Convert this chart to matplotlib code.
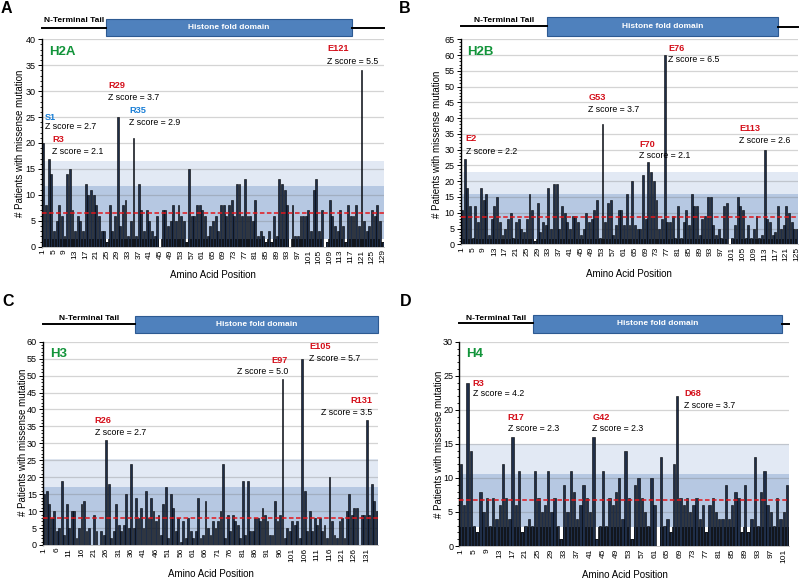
import numpy as np
import matplotlib
matplotlib.use('Agg')
import matplotlib.pyplot as plt
import matplotlib.transforms as mtransforms
from matplotlib.patches import Rectangle
from matplotlib.ticker import MultipleLocator

plt.rcParams['font.family'] = ['Liberation Sans', 'DejaVu Sans']

# patients with a missense mutation at each amino acid position
h2a_counts = [20, 8, 17, 14, 3, 5, 8, 6, 2, 14, 15, 7, 3, 6, 5, 3, 12, 10, 11, 10,
              8, 6, 3, 3, 1, 8, 3, 6, 25, 4, 8, 9, 2, 5, 21, 2, 12, 7, 3, 7,
              5, 3, 2, 6, 0, 7, 7, 4, 5, 8, 5, 8, 6, 5, 1, 15,
              6, 6, 8, 8, 7, 6, 2, 4, 5, 6, 3, 8, 8, 6, 8, 9, 6, 12, 12, 6,
              13, 6, 6, 5, 9, 2, 3, 2, 1, 3, 1, 6, 2, 13, 12, 11, 8, 0, 8, 2,
              2, 6, 6, 6, 7, 3, 11, 13, 3, 7, 0, 1, 9, 6, 4, 3, 7, 4, 1, 8,
              6, 6, 8, 4, 34, 5, 3, 4, 7, 6, 8, 5, 1]
h2b_counts = [11, 27, 18, 12, 2, 12, 7, 18, 14, 16, 3, 8, 12, 15, 7, 3, 5, 8, 10, 2,
              7, 8, 5, 4, 8, 16, 11, 1, 13, 4, 7, 6, 18, 5, 19, 19, 5, 12, 10, 7,
              5, 9, 9, 7, 3, 5, 10, 7, 8, 11, 14, 2,
              38, 7, 13, 14, 3, 6, 11, 11, 6, 16, 6, 20, 6, 5, 5, 22, 8, 26, 23, 20,
              14, 5, 8, 60,
              7, 7, 9, 2, 12, 2, 7, 11, 6, 16, 12, 12, 3, 8, 9, 15, 15, 6, 3, 5,
              2, 12, 13, 0, 2, 6, 15, 12, 11, 2, 6, 2, 5, 9, 2, 3,
              30, 8, 7, 3, 4, 12, 5, 6, 12, 10, 7, 5, 5]
h3_counts = [15, 16, 12, 8, 10, 4, 5, 19, 3, 12, 5, 10, 10, 2, 5, 12, 13, 4, 5, 0,
             9, 4, 0, 4, 3, 31, 18, 2, 4, 12, 6, 4, 6, 15, 5, 24,
             5, 14, 8, 11, 5, 16, 8, 14, 10, 7, 9, 3, 12, 17, 2, 15, 11, 4, 8, 1,
             7, 2, 8, 4, 2,
             4, 14, 2, 3, 13, 5, 3, 7, 5, 7, 10, 24, 2, 9, 4, 9, 7, 6, 2, 19,
             3, 19, 4, 4, 8, 8, 7, 11, 9, 7, 3, 3, 13, 7, 9, 49, 2, 5, 4, 7,
             6, 7, 2, 55, 16, 4, 10, 4, 8, 6, 8, 4, 6, 2, 20, 7, 3, 2, 7, 8,
             2, 10, 15, 9, 11, 11, 0, 9, 9, 37, 9, 18, 13, 10]
h4_counts = [12, 6, 24, 14, 3, 2, 8, 5, 7, 3, 7, 4, 6, 12, 7, 4, 16, 6, 11, 2,
             3, 4, 3, 11, 7, 5, 6, 11, 5, 7, 3, 1, 9, 5, 11, 8, 4, 6, 9, 7,
             5, 16, 1, 3, 11, 3, 7, 6, 8, 10, 4, 14, 7, 1, 9, 10, 7, 5, 3, 10,
             6, 0, 13, 3, 4, 2, 12, 22, 7, 6, 7, 5, 6, 7, 4, 6, 2, 6, 7, 5,
             4, 4, 9, 4, 6, 8, 7, 2, 9, 2, 4, 13, 3, 8, 11, 6, 5, 3, 7, 4, 5, 9]

# mean, mean+1SD, mean+2SD, mean-1SD
h2a_stats = [6.5, 11.8, 16.6, 1.5]
h2b_stats = [8.7, 15.8, 23.0, 1.6]
h3_stats = [8.1, 17.2, 25.3, 0.0]
h4_stats = [6.7, 10.6, 15.0, 2.8]

# hotspot residues and z scores
h2a_hot = ['S1', 'R3', 'R29', 'R35', 'E121']
h2a_z = ['2.7', '2.1', '3.7', '2.9', '5.5']
h2b_hot = ['E2', 'G53', 'F70', 'E76', 'E113']
h2b_z = ['2.2', '3.7', '2.1', '6.5', '2.6']
h3_hot = ['R26', 'E97', 'E105', 'R131']
h3_z = ['2.7', '5.0', '5.7', '3.5']
h4_hot = ['R3', 'R17', 'G42', 'D68']
h4_z = ['4.2', '2.3', '2.3', '3.7']

# histone fold domain boundaries (residue axis)
h2a_fold = (24.6, 117.5)
h2b_fold = (32.5, 118.0)
h3_fold = (37.6, 135.5)
h4_fold = (23.3, 100.4)

W, H = 800, 579
fig = plt.figure(figsize=(8, 5.79), dpi=100)

RED = '#d40f1a'
BLUE = '#1a7fd6'
GREEN = '#12943a'


def px_axes(l, t, r, b):
    return fig.add_axes([l / W, 1 - b / H, (r - l) / W, (b - t) / H])


def panel(box, counts, stats, ymax, xstep, name, hot, zs, hot_xy, hot_colors,
          hot_ha, fold, dom_y, letter, letter_xy, ylab_xy, xlab_xy):
    ax = px_axes(*box)
    n = len(counts)
    pos = np.arange(1, n + 1)
    cnt = np.array(counts, dtype=float)
    mean, sd1, sd2, low = stats
    ax.axhspan(0, sd2, color='#e2e9f4', lw=0, zorder=0)
    ax.axhspan(0, sd1, color='#b6c8e2', lw=0, zorder=0)
    for yv in range(5, ymax + 1, 5):
        ax.axhline(yv, color=(0.45, 0.45, 0.45, 0.3), lw=0.9, zorder=1)
    if low > 0:
        # strip below mean-1SD: dark where the column reaches it, blank otherwise
        ax.bar(pos, [low] * n, width=1.0, color='white', lw=0, zorder=1.5)
        ax.bar(pos, np.minimum(cnt, low), width=1.0, color='#35383d', lw=0, zorder=1.6)
    ax.bar(pos, cnt, width=0.72, color='#1f2e48', edgecolor='black',
           linewidth=0.4, zorder=2)
    ax.axhline(mean, color='#e3161b', ls=(0, (3, 1.6)), lw=1.1, zorder=3)

    ax.set_xlim(0.5, n + 0.5)
    ax.set_ylim(0, ymax)
    ax.set_yticks(range(0, ymax + 1, 5))
    ax.yaxis.set_minor_locator(MultipleLocator(1))
    ax.set_xticks(range(1, n + 1, xstep))
    ax.tick_params(axis='y', which='major', length=3, width=0.7, labelsize=6.5, pad=1.5)
    ax.tick_params(axis='y', which='minor', length=1.8, width=0.6)
    ax.tick_params(axis='x', length=0, labelsize=6, labelrotation=90, pad=2)
    for s in ['top', 'right']:
        ax.spines[s].set_visible(False)
    ax.spines['left'].set_linewidth(1.0)
    ax.spines['bottom'].set_color('#bbbbbb')
    ax.spines['bottom'].set_linewidth(0.6)

    ax.text(0.02, 0.94, name, transform=ax.transAxes, color=GREEN,
            fontsize=9.5, fontweight='bold', va='center', ha='left')

    for lab, z, (x, y, yz), c, ha in zip(hot, zs, hot_xy, hot_colors, hot_ha):
        ax.text(x, y, lab, color=c, fontsize=6.6, fontweight='bold',
                ha=ha, va='center', zorder=5)
        ax.text(x, yz, 'Z score = ' + z, color='black', fontsize=6.3,
                ha=ha, va='center', zorder=5)

    # domain diagram
    tr = mtransforms.blended_transform_factory(ax.transData, ax.transAxes)
    r_lo, r_hi, line_y, text_y, rline_y = dom_y
    f0, f1 = fold
    ax.plot([0.5, f0], [line_y, line_y], color='black', lw=1.4,
            transform=tr, clip_on=False)
    if f1 < n + 0.4:
        ax.plot([f1, n + 0.5], [rline_y, rline_y], color='black', lw=1.4,
                transform=tr, clip_on=False)
    ax.add_patch(Rectangle((f0, r_lo), f1 - f0, r_hi - r_lo, transform=tr,
                           facecolor='#4f81bd', edgecolor='#2d5a92', lw=0.8,
                           clip_on=False))
    ax.text((f0 + f1) / 2, (r_lo + r_hi) / 2, 'Histone fold domain', transform=tr,
            color='white', fontsize=6, fontweight='bold', ha='center', va='center')
    ax.text((0.5 + f0) / 2, text_y, 'N-Terminal Tail', transform=tr,
            color='black', fontsize=6, fontweight='bold', ha='center', va='center')

    fig.text(letter_xy[0] / W, 1 - letter_xy[1] / H, letter, fontsize=11.5,
             fontweight='bold', ha='left', va='top')
    fig.text(ylab_xy[0] / W, 1 - ylab_xy[1] / H, '# Patients with missense mutation',
             rotation=90, fontsize=7, ha='center', va='center')
    fig.text(xlab_xy[0] / W, 1 - xlab_xy[1] / H, 'Amino Acid Position',
             fontsize=7, ha='center', va='center')
    return ax


panel((42, 39.3, 384, 246.7), h2a_counts, h2a_stats, 40, 4, 'H2A',
      h2a_hot, h2a_z,
      [(1.6, 25.0, 23.1), (4.3, 20.6, 18.3), (25.4, 31.0, 28.7),
       (33.3, 26.2, 23.9), (108.0, 38.2, 35.8)],
      [BLUE, RED, RED, BLUE, RED], ['left'] * 5,
      h2a_fold, (1.016, 1.098, 1.055, 1.093, 1.055),
      'A', (1, 1), (20.5, 143), (213, 275))

panel((460.6, 39.3, 798.4, 244.3), h2b_counts, h2b_stats, 65, 4, 'H2B',
      h2b_hot, h2b_z,
      [(2.4, 33.5, 29.5), (47.7, 46.7, 42.9), (66.6, 31.7, 28.2),
       (77.3, 62.2, 58.5), (103.6, 36.8, 32.8)],
      [RED] * 5, ['left'] * 5,
      h2b_fold, (1.018, 1.107, 1.066, 1.091, 1.061),
      'B', (399, 1), (437, 144), (629, 274))

panel((43.1, 341.7, 377.9, 545), h3_counts, h3_stats, 60, 5, 'H3',
      h3_hot, h3_z,
      [(21.3, 36.7, 33.1), (99.3, 54.4, 51.1), (107.7, 58.5, 55.1),
       (133.1, 42.5, 39.0)],
      [RED] * 4, ['left', 'right', 'left', 'right'],
      h3_fold, (1.041, 1.126, 1.086, 1.115, 1.086),
      'C', (2, 294), (23, 442), (210.5, 574))

panel((459.4, 341.7, 788.6, 546), h4_counts, h4_stats, 30, 4, 'H4',
      h4_hot, h4_z,
      [(4.6, 23.9, 22.4), (15.5, 18.9, 17.2), (41.7, 18.9, 17.2),
       (70.1, 22.4, 20.7)],
      [RED] * 4, ['left'] * 4,
      h4_fold, (1.044, 1.131, 1.093, 1.112, 1.085),
      'D', (400, 294), (439, 444), (625, 575))

fig.savefig('out.png', dpi=100)
